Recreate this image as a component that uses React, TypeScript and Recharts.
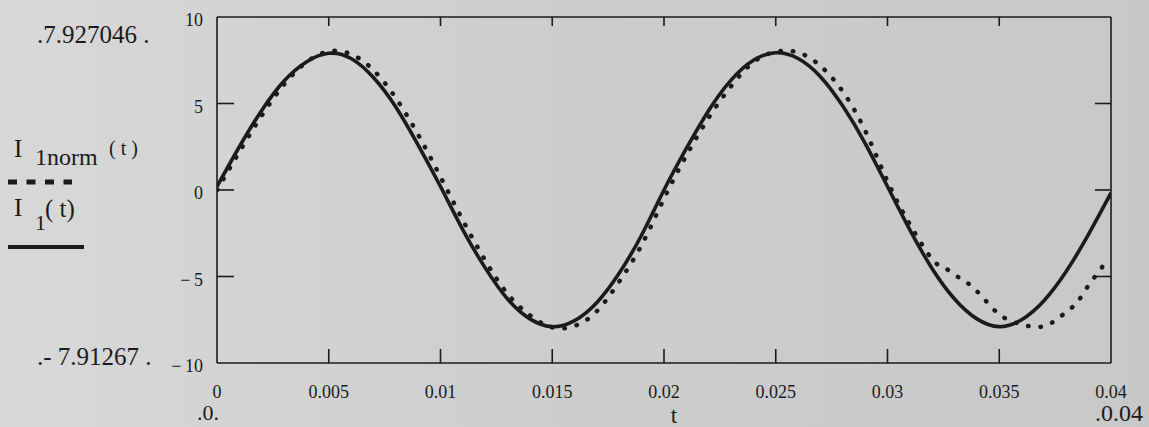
import React from "react";
import { LineChart, Line, XAxis, YAxis } from "recharts";

// I1(t) — solid trace, every 1 ms
const SOLID_T = [
  0, 0.001, 0.002, 0.003, 0.004, 0.005, 0.006, 0.007, 0.008, 0.009,
  0.01, 0.011, 0.012, 0.013, 0.014, 0.015, 0.016, 0.017, 0.018, 0.019,
  0.02, 0.021, 0.022, 0.023, 0.024, 0.025, 0.026, 0.027, 0.028, 0.029,
  0.03, 0.031, 0.032, 0.033, 0.034, 0.035, 0.036, 0.037, 0.038, 0.039, 0.04,
];
const SOLID_I = [
  0.2, 2.5, 4.6, 6.3, 7.4, 7.9, 7.6, 6.5, 4.8, 2.6,
  0.2, -2.3, -4.5, -6.3, -7.45, -7.9, -7.55, -6.5, -4.8, -2.6,
  0.0, 2.4, 4.6, 6.35, 7.5, 7.93, 7.6, 6.55, 4.85, 2.7,
  0.2, -2.3, -4.55, -6.3, -7.45, -7.9, -7.5, -6.4, -4.7, -2.55, -0.17,
];

// I1norm(t) — dotted trace, lags more towards the end
const NORM_T = [
  0, 0.001, 0.002, 0.003, 0.004, 0.005, 0.006, 0.007, 0.008, 0.009,
  0.01, 0.011, 0.012, 0.013, 0.014, 0.015, 0.016, 0.017, 0.018, 0.019,
  0.02, 0.021, 0.022, 0.023, 0.024, 0.025, 0.026, 0.027, 0.028, 0.029,
  0.03, 0.031, 0.032, 0.0325, 0.033, 0.0335, 0.034, 0.0345, 0.035, 0.0355,
  0.036, 0.0365, 0.037, 0.0375, 0.038, 0.0385, 0.039, 0.0395, 0.0397,
];
const NORM_I = [
  0.0, 2.2, 4.3, 6.1, 7.39, 8.01, 7.85, 6.93, 5.32, 3.2,
  0.76, -1.75, -4.07, -6.0, -7.24, -7.94, -7.86, -7.0, -5.29, -3.18,
  -0.5, 1.99, 4.18, 6.0, 7.39, 7.99, 7.95, 7.17, 5.69, 3.43,
  0.5, -1.99, -4.0, -4.45, -4.9, -5.3, -5.85, -6.55, -7.2, -7.55,
  -7.78, -7.9, -7.88, -7.55, -7.05, -6.47, -5.5, -4.65, -4.2,
];

const X_TICKS = [0, 0.005, 0.01, 0.015, 0.02, 0.025, 0.03, 0.035, 0.04];
const X_LABELS = ["0", "0.005", "0.01", "0.015", "0.02", "0.025", "0.03", "0.035", "0.04"];
const Y_TICKS = [-10, -5, 0, 5, 10];
const Y_LABELS = ["\u2212\u200910", "\u2212\u20095", "0", "5", "10"];
const INNER_Y_TICKS = [-5, 0, 5];

const INK = "#1b1b1b";
const FONT = "Liberation Serif, Times New Roman, DejaVu Serif, serif";

const solidData = SOLID_T.map((t, i) => ({ t, v: SOLID_I[i] }));
const normData = NORM_T.map((t, i) => ({ t, v: NORM_I[i] }));

const BottomTick = (props: any) => {
  const { x, y, payload } = props;
  const i = X_TICKS.indexOf(payload.value);
  const inner = i > 0 && i < X_TICKS.length - 1;
  return (
    <g>
      {inner && <line x1={x} y1={y} x2={x} y2={y - 14} stroke={INK} strokeWidth={1.6} />}
      <text x={x} y={y + 35} textAnchor="middle" style={{ fontFamily: FONT, fontSize: 18 }} fill={INK}>
        {X_LABELS[i]}
      </text>
    </g>
  );
};

const TopTick = (props: any) => {
  const { x, y, payload } = props;
  const i = X_TICKS.indexOf(payload.value);
  if (i <= 0 || i >= X_TICKS.length - 1) return <g />;
  return <line x1={x} y1={y} x2={x} y2={y + 9} stroke={INK} strokeWidth={1.6} />;
};

const LeftTick = (props: any) => {
  const { x, y, payload } = props;
  const i = Y_TICKS.indexOf(payload.value);
  const inner = INNER_Y_TICKS.includes(payload.value);
  return (
    <g>
      {inner && <line x1={x} y1={y} x2={x + 17} y2={y} stroke={INK} strokeWidth={1.6} />}
      <text x={x - 14} y={y + 9} textAnchor="end" style={{ fontFamily: FONT, fontSize: 18 }} fill={INK}>
        {Y_LABELS[i]}
      </text>
    </g>
  );
};

const RightTick = (props: any) => {
  const { x, y } = props;
  return <line x1={x} y1={y} x2={x - 16} y2={y} stroke={INK} strokeWidth={1.6} />;
};

const txt = (size: number): React.CSSProperties => ({ fontFamily: FONT, fontSize: size });

export default function App() {
  return (
    <div
      style={{
        position: "relative",
        width: 1149,
        height: 427,
        background: "linear-gradient(90deg, #d8d8d8 0%, #cdcdcd 50%, #c8c8c8 100%)",
        overflow: "hidden",
      }}
    >
      <style>{"body{margin:0}"}</style>
      <LineChart
        width={1149}
        height={427}
        margin={{ top: 12, right: 28, bottom: 34, left: 157 }}
      >
        <XAxis
          dataKey="t"
          type="number"
          domain={[0, 0.04]}
          ticks={X_TICKS}
          allowDataOverflow
          height={30}
          tickSize={0}
          tickMargin={0}
          tickLine={false}
          axisLine={{ stroke: INK, strokeWidth: 1.6 }}
          tick={<BottomTick />}
          interval={0}
        />
        <XAxis
          xAxisId="top"
          orientation="top"
          dataKey="t"
          type="number"
          domain={[0, 0.04]}
          ticks={X_TICKS}
          allowDataOverflow
          height={5}
          tickSize={0}
          tickMargin={0}
          tickLine={false}
          axisLine={{ stroke: INK, strokeWidth: 1.6 }}
          tick={<TopTick />}
          interval={0}
        />
        <YAxis
          type="number"
          domain={[-10, 10]}
          ticks={Y_TICKS}
          allowDataOverflow
          width={60}
          tickSize={0}
          tickMargin={0}
          tickLine={false}
          axisLine={{ stroke: INK, strokeWidth: 1.6 }}
          tick={<LeftTick />}
          interval={0}
        />
        <YAxis
          yAxisId="right"
          orientation="right"
          type="number"
          domain={[-10, 10]}
          ticks={INNER_Y_TICKS}
          allowDataOverflow
          width={10}
          tickSize={0}
          tickMargin={0}
          tickLine={false}
          axisLine={{ stroke: INK, strokeWidth: 1.6 }}
          tick={<RightTick />}
          interval={0}
        />
        {/* invisible copy so the top / right frame axes get their ticks */}
        <Line
          xAxisId="top"
          yAxisId="right"
          data={solidData}
          dataKey="v"
          stroke="none"
          dot={false}
          activeDot={false}
          legendType="none"
          isAnimationActive={false}
        />
        <Line
          data={solidData}
          dataKey="v"
          type="natural"
          stroke={INK}
          strokeWidth={3.6}
          dot={false}
          activeDot={false}
          isAnimationActive={false}
        />
        <Line
          data={normData}
          dataKey="v"
          type="natural"
          stroke={INK}
          strokeWidth={4.5}
          strokeDasharray="0.5 12"
          strokeLinecap="round"
          dot={false}
          activeDot={false}
          isAnimationActive={false}
        />
      </LineChart>

      <svg
        width={1149}
        height={427}
        style={{ position: "absolute", left: 0, top: 0, pointerEvents: "none" }}
        fill={INK}
      >
        <text x={37} y={43} style={txt(25)}>.7.927046 .</text>
        <text x={37} y={365} style={txt(25)}>.- 7.91267 .</text>

        <text x={14} y={157} style={txt(25)}>I</text>
        <text x={35} y={165} style={txt(24)}>1norm</text>
        <text x={109} y={155} style={txt(20)}>( t )</text>
        <line x1={8} y1={182} x2={72} y2={182} stroke={INK} strokeWidth={5} strokeDasharray="9 9.5" />

        <text x={14} y={216} style={txt(25)}>I</text>
        <text x={35} y={230} style={txt(22)}>1</text>
        <text x={45} y={217} style={txt(25)}>( t)</text>
        <line x1={8} y1={247} x2={84} y2={247} stroke={INK} strokeWidth={4} />

        <text x={197} y={420} style={txt(22)}>.0.</text>
        <text x={674} y={423} style={txt(23)} textAnchor="middle">t</text>
        <text x={1095} y={421} style={txt(24)}>.0.04</text>
      </svg>
    </div>
  );
}
